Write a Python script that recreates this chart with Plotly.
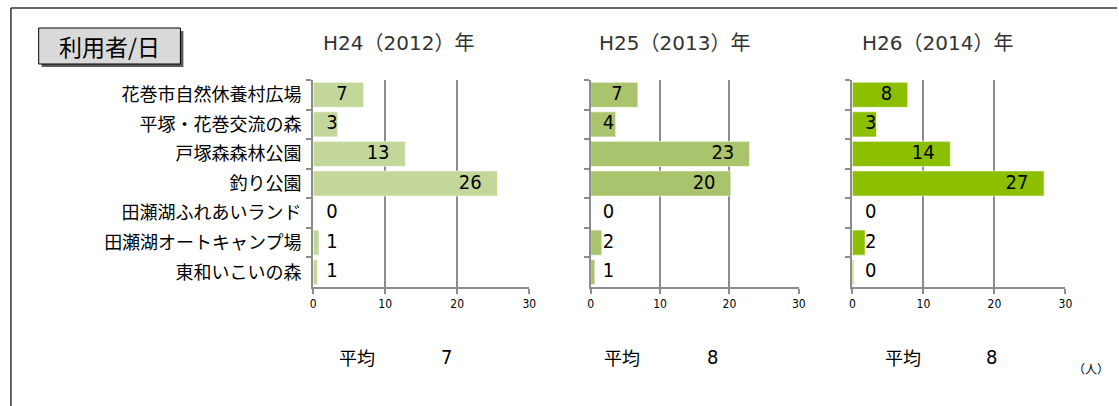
import plotly.graph_objects as go

W, H = 1119, 406

places = [
    "花巻市自然休養村広場",
    "平塚・花巻交流の森",
    "戸塚森森林公園",
    "釣り公園",
    "田瀬湖ふれあいランド",
    "田瀬湖オートキャンプ場",
    "東和いこいの森",
]

years = ["H24（2012）年", "H25（2013）年", "H26（2014）年"]

# 利用者/日 (人) - bar lengths, labels are rounded
users_2012 = [7.0, 3.4, 12.8, 25.6, 0, 0.8, 0.6]
users_2013 = [6.8, 3.6, 22.9, 20.2, 0, 1.6, 0.6]
users_2014 = [7.8, 3.4, 13.8, 27.0, 0, 1.8, 0.2]

bar_colors = ["#c4d79b", "#a9c46c", "#8cbf00"]

# panel positions in pixels (left, right)
panels = [(313, 531), (593, 803), (857, 1072)]
plot_top, plot_bottom = 80, 287
title_x = [399, 678, 943]
avg_label_x = [357, 625, 908]
avg_value_x = [447, 716, 997]

CJK = "Noto Sans CJK JP"
NARROW = "Liberation Sans Narrow, DejaVu Sans Condensed, Arial Narrow, sans-serif"


def px(x):
    return x / W


def py(y):
    return 1 - y / H


def rnd(v):
    return int(v + 0.5)


fig = go.Figure()

series = [users_2012, users_2013, users_2014]
annotations = []
for i, vals in enumerate(series):
    n = "" if i == 0 else str(i + 1)
    fig.add_trace(go.Bar(
        x=vals, y=places, orientation="h",
        marker=dict(color=bar_colors[i], line=dict(color="rgba(255,255,255,0.6)", width=1)),
        xaxis="x" + n, yaxis="y" + n, hoverinfo="x+y", showlegend=False,
    ))
    # data labels: inside end, kept off the axis for short bars
    fig.add_trace(go.Scatter(
        x=[max(v - 2.2, 3.4) for v in vals], y=places, mode="text",
        text=[str(rnd(v)) for v in vals], textposition="middle left",
        textfont=dict(family=NARROW, size=20, color="#000000"),
        xaxis="x" + n, yaxis="y" + n, hoverinfo="skip", showlegend=False,
    ))

    left, right = panels[i]
    fig.update_layout(**{
        "xaxis" + n: dict(
            domain=[px(left), px(right)], anchor="y" + n, range=[0, 30], dtick=10,
            showgrid=True, gridcolor="#8c8c8c", gridwidth=2, zeroline=False,
            showline=True, linecolor="#8c8c8c", linewidth=2,
            ticks="outside", ticklen=5, tickwidth=2, tickcolor="#8c8c8c",
            tickfont=dict(family=NARROW, size=12, color="#000000"), fixedrange=True,
        ),
        "yaxis" + n: dict(
            domain=[py(plot_bottom), py(plot_top)], anchor="x" + n,
            autorange="reversed", type="category", tickson="boundaries",
            showline=True, linecolor="#8c8c8c", linewidth=2,
            ticks="outside", ticklen=5, tickwidth=2, tickcolor="#8c8c8c",
            showticklabels=(i == 0), ticklabelstandoff=6,
            tickfont=dict(family=CJK, size=18, color="#000000"), fixedrange=True,
        ),
    })

    annotations.append(dict(
        x=px(title_x[i]), y=py(43), xref="paper", yref="paper", text=years[i],
        showarrow=False, xanchor="center", yanchor="middle",
        font=dict(family="DejaVu Sans, " + CJK, size=20, color="#333333"),
    ))
    annotations.append(dict(
        x=px(avg_label_x[i]), y=py(357), xref="paper", yref="paper", text="平均",
        showarrow=False, xanchor="center", yanchor="middle",
        font=dict(family=CJK, size=18, color="#000000"),
    ))
    annotations.append(dict(
        x=px(avg_value_x[i]), y=py(357), xref="paper", yref="paper",
        text=str(rnd(sum(vals) / len(vals))),
        showarrow=False, xanchor="center", yanchor="middle",
        font=dict(family=NARROW, size=20, color="#000000"),
    ))

annotations.append(dict(
    x=px(1098), y=py(368), xref="paper", yref="paper", text="（人）",
    showarrow=False, xanchor="center", yanchor="middle",
    font=dict(family=CJK, size=12, color="#000000"),
))
annotations.append(dict(
    x=px(107), y=py(46), xref="paper", yref="paper", text="利用者/日",
    showarrow=False, xanchor="center", yanchor="middle",
    font=dict(family=CJK, size=23, color="#000000"),
))

shapes = [
    # outer frame (top and left edges visible)
    dict(type="line", xref="paper", yref="paper", x0=px(8), x1=px(W + 5), y0=py(8), y1=py(8),
         line=dict(color="#333333", width=1.5)),
    dict(type="line", xref="paper", yref="paper", x0=px(8), x1=px(8), y0=py(8), y1=py(H + 5),
         line=dict(color="#333333", width=1.5)),
    # title box shadow + box
    dict(type="rect", xref="paper", yref="paper", x0=px(39), x1=px(182), y0=py(67), y1=py(31),
         fillcolor="#5a5a5a", line=dict(width=0), layer="below"),
    dict(type="rect", xref="paper", yref="paper", x0=px(36), x1=px(179), y0=py(64), y1=py(28),
         fillcolor="#d9d9d9", line=dict(color="#000000", width=1), layer="below"),
]

fig.update_layout(
    width=W, height=H,
    margin=dict(l=0, r=0, t=0, b=0),
    paper_bgcolor="#ffffff", plot_bgcolor="#ffffff",
    bargap=0.15,
    annotations=annotations,
    shapes=shapes,
    font=dict(family=CJK),
)

# let the fixed-size figure fill the window exactly
fig.write_html(
    "out.html",
    config={"displayModeBar": False},
    post_script="document.body.style.margin = '0';",
)
